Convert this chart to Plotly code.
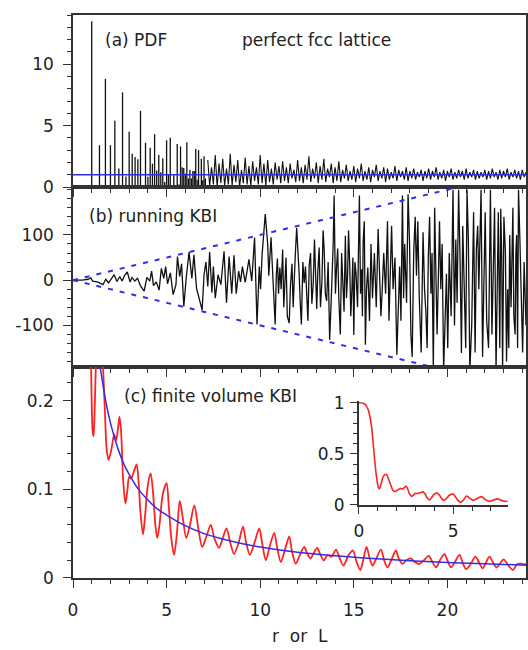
import plotly.graph_objects as go

# ---------------- panel (a): PDF of a perfect fcc lattice ----------------
shell_r = [1.000, 1.414, 1.732, 2.000, 2.236, 2.449, 2.646, 2.828, 3.000, 3.162,
           3.317, 3.464, 3.606, 3.873, 4.000, 4.123, 4.243, 4.359, 4.472, 4.583,
           4.690, 4.796, 4.899, 5.000, 5.099, 5.196, 5.385, 5.568, 5.657, 5.745,
           5.831, 5.916, 6.000, 6.083, 6.164, 6.245, 6.325, 6.403, 6.481, 6.557,
           6.633, 6.708, 6.856, 6.928, 7.000, 7.071]
shell_g = [13.5, 3.4, 8.8, 3.4, 5.4, 1.5, 7.7, 0.85, 4.5, 2.7,
           2.45, 2.25, 6.2, 3.6, 0.84, 3.2, 1.9, 4.3, 1.35, 2.6,
           1.2, 2.35, 0.4, 3.8, 1.05, 4.0, 0.95, 3.5, 0.2, 3.3,
           1.6, 1.55, 1.1, 3.65, 0.7, 1.4, 0.7, 1.3, 1.3, 3.1,
           0.6, 3.0, 2.3, 0.55, 2.5, 0.7]

tail_r = [7.2, 7.3, 7.4, 7.5, 7.6, 7.7, 7.8, 7.9, 8.0, 8.1,
          8.2, 8.3, 8.4, 8.5, 8.6, 8.7, 8.8, 8.9, 9.0, 9.1,
          9.2, 9.3, 9.4, 9.5, 9.6, 9.7, 9.8, 9.9, 10.0, 10.1,
          10.2, 10.3, 10.4, 10.5, 10.6, 10.7, 10.8, 10.9, 11.0, 11.1,
          11.2, 11.3, 11.4, 11.5, 11.6, 11.7, 11.8, 11.9, 12.0, 12.1,
          12.2, 12.3, 12.4, 12.5, 12.6, 12.7, 12.8, 12.9, 13.0, 13.1,
          13.2, 13.3, 13.4, 13.5, 13.6, 13.7, 13.8, 13.9, 14.0, 14.1,
          14.2, 14.3, 14.4, 14.5, 14.6, 14.7, 14.8, 14.9, 15.0, 15.1,
          15.2, 15.3, 15.4, 15.5, 15.6, 15.7, 15.8, 15.9, 16.0, 16.1,
          16.2, 16.3, 16.4, 16.5, 16.6, 16.7, 16.8, 16.9, 17.0, 17.1,
          17.2, 17.3, 17.4, 17.5, 17.6, 17.7, 17.8, 17.9, 18.0, 18.1,
          18.2, 18.3, 18.4, 18.5, 18.6, 18.7, 18.8, 18.9, 19.0, 19.1,
          19.2, 19.3, 19.4, 19.5, 19.6, 19.7, 19.8, 19.9, 20.0, 20.1,
          20.2, 20.3, 20.4, 20.5, 20.6, 20.7, 20.8, 20.9, 21.0, 21.1,
          21.2, 21.3, 21.4, 21.5, 21.6, 21.7, 21.8, 21.9, 22.0, 22.1,
          22.2, 22.3, 22.4, 22.5, 22.6, 22.7, 22.8, 22.9, 23.0, 23.1,
          23.2, 23.3, 23.4, 23.5, 23.6, 23.7, 23.8, 23.9, 24.0, 24.1, 24.2]
tail_g = [2.2, 0.1, 1.6, 0.2, 2.6, 0.0, 1.9, 0.3, 2.3, 0.1,
          1.5, 0.2, 2.7, 0.1, 1.8, 0.4, 2.2, 0.0, 1.4, 0.3,
          2.4, 0.2, 1.7, 0.1, 2.1, 0.5, 1.6, 0.2, 2.6, 0.3,
          1.9, 0.1, 2.2, 0.4, 1.5, 0.2, 2.0, 0.6, 1.7, 0.3,
          2.1, 0.5, 1.6, 0.3, 1.9, 0.7, 1.4, 0.4, 2.2, 0.5,
          1.6, 0.3, 1.8, 0.6, 2.5, 0.4, 1.5, 0.7, 2.0, 0.3,
          1.7, 0.6, 2.3, 0.4, 1.5, 0.8, 1.9, 0.3, 1.6, 0.5,
          2.1, 0.4, 1.4, 0.7, 1.8, 0.5, 1.3, 0.6, 1.7, 0.4,
          1.5, 0.7, 1.9, 0.5, 1.3, 0.6, 1.6, 0.4, 1.4, 0.8,
          1.8, 0.5, 1.3, 0.7, 1.6, 0.4, 1.5, 0.6, 1.2, 0.7,
          1.7, 0.5, 1.4, 0.8, 1.3, 0.6, 1.6, 0.5, 1.3, 0.7,
          1.5, 0.6, 1.2, 0.8, 1.4, 0.5, 1.3, 0.7, 1.5, 0.6,
          1.3, 0.8, 1.6, 0.6, 1.2, 0.7, 1.4, 0.5, 1.3, 0.8,
          1.5, 0.6, 1.2, 0.7, 1.4, 0.8, 1.3, 0.6, 1.5, 0.7,
          1.2, 0.8, 1.4, 0.6, 1.3, 0.7, 1.2, 0.8, 1.4, 0.6,
          1.3, 0.7, 1.5, 0.8, 1.2, 0.6, 1.4, 0.7, 1.3, 0.8,
          1.5, 0.6, 1.2, 0.8, 1.4, 0.7, 1.3, 0.6, 1.4, 0.8, 1.2]

ideal_r = [0.0, 24.2]
ideal_g = [1.0, 1.0]

# ---------------- panel (b): running KBI ----------------
kbi_r = [0.0, 0.5, 0.8, 0.95, 1.05, 1.3, 1.6, 1.75, 1.9, 2.05,
         2.2, 2.35, 2.5, 2.62, 2.75, 2.9, 3.05, 3.15, 3.3, 3.45,
         3.6, 3.8, 3.95, 4.1, 4.2, 4.3, 4.45, 4.6, 4.72, 4.85,
         4.95, 5.05, 5.2, 5.35, 5.5, 5.58, 5.7, 5.8, 5.92, 6.05,
         6.2, 6.35, 6.46, 6.6, 6.75, 6.9, 7.0, 7.1, 7.2, 7.3,
         7.42, 7.5, 7.6, 7.75, 7.9, 8.07, 8.2, 8.34, 8.48, 8.6,
         8.72, 8.85, 8.95, 9.05, 9.2, 9.4, 9.55, 9.7, 9.83, 9.95,
         10.1, 10.27, 10.4, 10.52, 10.65, 10.8, 10.92, 11.05, 11.2, 11.32,
         11.45, 11.55, 11.7, 11.82, 11.95, 12.08, 12.2, 12.35, 12.48, 12.62,
         12.76, 12.9, 13.02, 13.15, 13.3, 13.42, 13.55, 13.71, 13.85, 13.95,
         14.08, 14.2, 14.28, 14.42, 14.55, 14.67, 14.78, 14.9, 15.0, 15.12,
         15.3, 15.42, 15.5, 15.62, 15.75, 15.92, 16.1, 16.3, 16.45, 16.6,
         16.8, 16.95, 17.1, 17.3, 17.45, 17.6, 17.72, 17.9, 18.05, 18.2,
         18.35, 18.5, 18.7, 18.85, 18.98, 19.12, 19.25, 19.38, 19.52, 19.65,
         19.8, 19.95, 20.1, 20.3, 20.45, 20.6, 20.75, 20.9, 21.05, 21.2,
         21.4, 21.55, 21.68, 21.8, 21.95, 22.1, 22.3, 22.45, 22.6, 22.72,
         22.85, 22.95, 23.1, 23.22, 23.33, 23.45, 23.55, 23.62, 23.7, 23.8,
         23.95, 24.1, 24.3]
kbi_g = [0, 0, 2, 5, -2, -4, -10, 2, -6, 4,
         12, -3, 8, -2, 10, 18, -4, 6, -2, 4,
         -12, -24, 6, -2, 20, -12, -4, -22, 26, 4,
         30, -8, 16, -32, -10, 52, 8, 36, -58, 6,
         62, 4, 56, -18, -44, -66, 12, 40, -14, 62,
         -28, 30, -40, 12, -10, 64, -50, 52, -30, 55,
         -30, 20, -4, 30, -5, 46, -2, 94, -98, 30,
         55, 146, 80, 46, 30, -98, 48, 28, 68, 12,
         -80, -95, 36, 14, 116, 14, -98, -6, -40, 34,
         -52, 90, -64, 72, -2, 66, -46, -132, 20, 187,
         28, -40, -120, -10, 98, 12, 38, -20, -121, 16,
         187, 24, 84, -143, 28, 80, 60, 113, -80, 60,
         131, 10, -20, -165, 30, 187, 80, 190, -120, 60,
         10, -40, 106, -70, 50, -30, -200, -24, 10, -20,
         -200, 14, 60, 200, 90, 200, -161, -60, 200, -200,
         150, 70, -20, 200, -30, -90, 200, 18, -200, 150,
         158, -200, 60, -20, 100, 20, -80, -120, 100, 200,
         -50, 40, 20]
# finer wiggles read between the main extrema
kbi_r_fine = [10.02, 10.46, 10.58, 10.72, 10.86, 10.98, 11.12, 11.26, 11.38, 11.62,
              11.76, 11.88, 12.02, 12.14, 12.28, 12.42, 12.55, 12.69, 12.83, 12.96,
              13.08, 13.22, 13.36, 13.48, 13.63, 13.78, 13.9, 14.02, 14.14, 14.35,
              14.48, 14.61, 14.72, 14.84, 14.95, 15.06, 15.2, 15.36, 15.46, 15.56,
              15.68, 15.84, 16.0, 16.2, 16.38, 16.52, 16.7, 16.88, 17.02, 17.2,
              17.38, 17.52, 17.66, 17.82, 17.98, 18.12, 18.28, 18.42, 18.6, 18.78,
              18.92, 19.05, 19.18, 19.32, 19.45, 19.58, 19.72, 19.88, 20.02, 20.2,
              20.38, 20.52, 20.68, 20.82, 20.98, 21.12, 21.3, 21.48, 21.62, 21.74,
              21.88, 22.02, 22.2, 22.38, 22.52, 22.66, 22.8, 22.9, 23.02, 23.16,
              23.28, 23.4, 23.5, 23.66, 23.75, 23.88, 24.02, 24.2]
kbi_g_fine = [-20, 10, 95, -40, 10, -30, -20, -60, 50, -10,
              -60, 60, 70, -50, 40, 30, -90, 60, -10, -20,
              20, -60, 110, -30, 40, -60, 80, -30, 70, 60,
              -70, -40, 110, -80, 50, 40, -60, -30, -80, 130,
              -20, -90, -40, -60, 20, -20, -30, -90, 120, 50,
              -40, -90, -40, -50, 80, -170, 140, 130, -160, -20,
              -150, 140, 60, 160, -120, 130, 80, -60, -150, -80,
              -100, -50, 40, 120, -150, 90, -100, -160, 120, 100,
              -170, 150, -150, -120, 160, -60, -150, 60, 140, -180,
              -150, -60, 160, 60, -150, 80, -160, -100]

env_r = [0.0, 24.2]
env_hi = [0.0, 242.0]
env_lo = [0.0, -242.0]

# ---------------- panel (c): finite volume KBI ----------------
fv_L = [0.0, 0.3, 0.5, 0.67, 0.8, 0.9, 0.98, 1.05, 1.1, 1.17,
        1.3, 1.45, 1.58, 1.7, 1.8, 1.9, 2.05, 2.2, 2.3, 2.4,
        2.48, 2.57, 2.68, 2.8, 2.9, 3.0, 3.1, 3.25, 3.4, 3.5,
        3.6, 3.74, 3.85, 4.0, 4.15, 4.28, 4.4, 4.5, 4.62, 4.8,
        5.0, 5.12, 5.25, 5.4, 5.55, 5.7, 5.85, 6.05, 6.25, 6.48,
        6.7, 6.9, 7.1, 7.36, 7.55, 7.8, 8.0, 8.2, 8.4, 8.6,
        8.85, 9.08, 9.25, 9.45, 9.7, 9.95, 10.1, 10.3, 10.5, 10.75,
        10.9, 11.1, 11.3, 11.55, 11.7, 11.9, 12.1, 12.35, 12.5, 12.7,
        12.85, 13.05, 13.2, 13.4, 13.6, 13.8, 14.05, 14.25, 14.45, 14.7,
        14.95, 15.15, 15.35, 15.5, 15.68, 15.85, 16.0, 16.2, 16.45, 16.62,
        16.8, 17.0, 17.25, 17.4, 17.6, 17.8, 18.05, 18.25, 18.5, 18.75,
        19.0, 19.2, 19.4, 19.6, 19.85, 20.0, 20.2, 20.4, 20.65, 20.8,
        21.0, 21.25, 21.5, 21.7, 21.88, 22.05, 22.25, 22.45, 22.62, 22.8,
        23.0, 23.2, 23.5, 23.75, 24.0, 24.3]
fv_G = [1.00, 0.99, 0.93, 0.77, 0.52, 0.33, 0.22, 0.165, 0.16, 0.20,
        0.28, 0.30, 0.25, 0.19, 0.145, 0.133, 0.145, 0.162, 0.155, 0.168,
        0.182, 0.165, 0.11, 0.084, 0.098, 0.114, 0.112, 0.120, 0.128, 0.11,
        0.075, 0.049, 0.07, 0.105, 0.118, 0.095, 0.06, 0.045, 0.06, 0.095,
        0.107, 0.08, 0.045, 0.026, 0.05, 0.087, 0.07, 0.045, 0.06, 0.082,
        0.055, 0.035, 0.045, 0.060, 0.045, 0.034, 0.045, 0.056, 0.04, 0.027,
        0.04, 0.058, 0.04, 0.026, 0.04, 0.056, 0.04, 0.020, 0.035, 0.051,
        0.035, 0.018, 0.03, 0.047, 0.03, 0.016, 0.025, 0.035, 0.028, 0.022,
        0.028, 0.034, 0.027, 0.020, 0.026, 0.024, 0.032, 0.022, 0.014, 0.025,
        0.031, 0.018, 0.009, 0.02, 0.035, 0.022, 0.014, 0.022, 0.032, 0.02,
        0.012, 0.02, 0.031, 0.022, 0.016, 0.02, 0.022, 0.018, 0.016, 0.02,
        0.025, 0.018, 0.012, 0.02, 0.027, 0.02, 0.012, 0.018, 0.026, 0.018,
        0.010, 0.016, 0.024, 0.017, 0.011, 0.017, 0.024, 0.017, 0.012, 0.016,
        0.021, 0.016, 0.009, 0.016, 0.016, 0.015]

fit_L = [1.45, 1.6, 1.8, 2.0, 2.25, 2.5, 2.75, 3.0, 3.5, 4.0,
         4.5, 5.0, 6.0, 7.0, 8.0, 9.0, 10.0, 12.0, 14.0, 16.0,
         18.0, 20.0, 22.0, 24.2]
fit_G = [0.238, 0.218, 0.194, 0.175, 0.156, 0.140, 0.127, 0.117, 0.100, 0.088,
         0.078, 0.071, 0.059, 0.050, 0.044, 0.039, 0.035, 0.029, 0.025, 0.022,
         0.0195, 0.0175, 0.016, 0.0145]

# tick labels
a_ticks = [0, 5, 10]
b_ticks = [-100, 0, 100]
b_labels = ["-100", "0", "100"]
c_ticks = [0, 0.1, 0.2]
c_labels = ["0", "0.1", "0.2"]

# ---------------- styling ----------------
BLACK = "#111111"
BLUE = "#2f2fe6"
RED = "#ff2222"
AX = "#333333"
FONT = "DejaVu Sans"

spike_x, spike_y = [], []
for r, g in zip(shell_r, shell_g):
    spike_x += [r, r, None]
    spike_y += [0, g, None]

kbi_pairs = sorted(list(zip(kbi_r, kbi_g)) + list(zip(kbi_r_fine, kbi_g_fine)))
kbi_x = [p[0] for p in kbi_pairs]
kbi_y = [p[1] for p in kbi_pairs]

fig = go.Figure()
# (a)
fig.add_trace(go.Scatter(x=spike_x, y=spike_y, mode="lines", line=dict(color=BLACK, width=1.3),
                         xaxis="x", yaxis="y", showlegend=False))
fig.add_trace(go.Scatter(x=tail_r, y=tail_g, mode="lines", line=dict(color=BLACK, width=1.1),
                         xaxis="x", yaxis="y", showlegend=False))
fig.add_trace(go.Scatter(x=ideal_r, y=ideal_g, mode="lines", line=dict(color=BLUE, width=1.5),
                         xaxis="x", yaxis="y", showlegend=False))
# (b)
fig.add_trace(go.Scatter(x=kbi_x, y=kbi_y, mode="lines", line=dict(color=BLACK, width=1.3),
                         xaxis="x2", yaxis="y2", showlegend=False))
fig.add_trace(go.Scatter(x=env_r, y=env_hi, mode="lines",
                         line=dict(color=BLUE, width=2, dash="5px,7px"),
                         xaxis="x2", yaxis="y2", showlegend=False))
fig.add_trace(go.Scatter(x=env_r, y=env_lo, mode="lines",
                         line=dict(color=BLUE, width=2, dash="5px,7px"),
                         xaxis="x2", yaxis="y2", showlegend=False))
# (c)
fig.add_trace(go.Scatter(x=fv_L, y=fv_G, mode="lines", line=dict(color=RED, width=1.8, shape="spline", smoothing=0.8),
                         xaxis="x3", yaxis="y3", showlegend=False))
fig.add_trace(go.Scatter(x=fit_L, y=fit_G, mode="lines", line=dict(color=BLUE, width=1.5, shape="spline"),
                         xaxis="x3", yaxis="y3", showlegend=False))
# inset
fig.add_trace(go.Scatter(x=fv_L, y=fv_G, mode="lines", line=dict(color=RED, width=1.6, shape="spline", smoothing=0.8),
                         xaxis="x4", yaxis="y4", showlegend=False))

tickfont = dict(family=FONT, size=17, color="#222222")
minor_style = dict(ticks="outside", ticklen=4, tickwidth=1, tickcolor=AX)
common_x = dict(range=[0, 24.2], showline=True, linecolor=AX, linewidth=1.5, mirror=True,
                ticks="outside", ticklen=8, tickwidth=1.2, tickcolor=AX, dtick=5, tick0=0,
                minor=dict(minor_style, dtick=1), ticklabelstandoff=8,
                showgrid=False, zeroline=False, automargin=False, tickfont=tickfont)
common_y = dict(showline=True, linecolor=AX, linewidth=1.5, mirror=True,
                ticks="outside", ticklen=8, tickwidth=1.2, tickcolor=AX, ticklabelstandoff=6,
                showgrid=False, zeroline=False, automargin=False, tickfont=tickfont)

dom_a = [0.6945, 1.0]
dom_b = [0.3748, 0.6945]
dom_c = [0.0, 0.3748]

fig.update_layout(
    width=528, height=650,
    margin=dict(l=73, r=2, t=15, b=72),
    paper_bgcolor="white", plot_bgcolor="white",
    font=dict(family=FONT, size=17, color="#222222"),
    xaxis=dict(common_x, anchor="y", domain=[0, 1], showticklabels=False),
    yaxis=dict(common_y, anchor="x", domain=dom_a, range=[0, 14], tickmode="array", tickvals=a_ticks,
               minor=dict(minor_style, tickmode="linear", tick0=0, dtick=1)),
    xaxis2=dict(common_x, anchor="y2", domain=[0, 1], showticklabels=False),
    yaxis2=dict(common_y, anchor="x2", domain=dom_b, range=[-192, 206], tickmode="array",
                tickvals=b_ticks, ticktext=b_labels,
                minor=dict(minor_style, tickmode="linear", tick0=0, dtick=20)),
    xaxis3=dict(common_x, anchor="y3", domain=[0, 1], showticklabels=True),
    yaxis3=dict(common_y, anchor="x3", domain=dom_c, range=[0, 0.238], tickmode="array",
                tickvals=c_ticks, ticktext=c_labels,
                minor=dict(minor_style, tickmode="linear", tick0=0, dtick=0.02)),
    xaxis4=dict(anchor="y4", domain=[0.631, 0.960], range=[0, 7.9], showline=True, linecolor=AX,
                linewidth=1.5, mirror=False, ticks="outside", ticklen=7, tickwidth=1.2, tickcolor=AX,
                dtick=5, tick0=0, minor=dict(minor_style, dtick=1), ticklabelstandoff=3,
                showgrid=False, zeroline=False, automargin=False, tickfont=tickfont),
    yaxis4=dict(anchor="x4", domain=[0.1297, 0.3149], range=[0, 1.02], showline=True, linecolor=AX,
                linewidth=1.5, mirror=False, ticks="outside", ticklen=7, tickwidth=1.2, tickcolor=AX,
                dtick=0.5, tick0=0, minor=dict(minor_style, dtick=0.1), ticklabelstandoff=2,
                showgrid=False, zeroline=False, automargin=False, tickfont=tickfont),
)

ann_font = dict(family=FONT, size=17, color="#222222")
fig.add_annotation(text="(a) PDF", xref="x domain", yref="y domain", x=0.066, y=0.855,
                   xanchor="left", yanchor="middle", showarrow=False, font=ann_font)
fig.add_annotation(text="perfect fcc lattice", xref="x domain", yref="y domain", x=0.369, y=0.855,
                   xanchor="left", yanchor="middle", showarrow=False, font=ann_font)
fig.add_annotation(text="(b) running KBI", xref="x2 domain", yref="y2 domain", x=0.031, y=0.838,
                   xanchor="left", yanchor="middle", showarrow=False, font=ann_font)
fig.add_annotation(text="(c) finite volume KBI", xref="x3 domain", yref="y3 domain", x=0.108, y=0.863,
                   xanchor="left", yanchor="middle", showarrow=False, font=ann_font)
fig.add_annotation(text="r\u00a0 or\u00a0 L", xref="paper", yref="paper", x=0.5, y=-0.103,
                   xanchor="center", yanchor="middle", showarrow=False, font=ann_font)

fig.write_html("out.html", config={"displayModeBar": False},
               post_script="document.body.style.margin='0';document.body.style.overflow='hidden';")
